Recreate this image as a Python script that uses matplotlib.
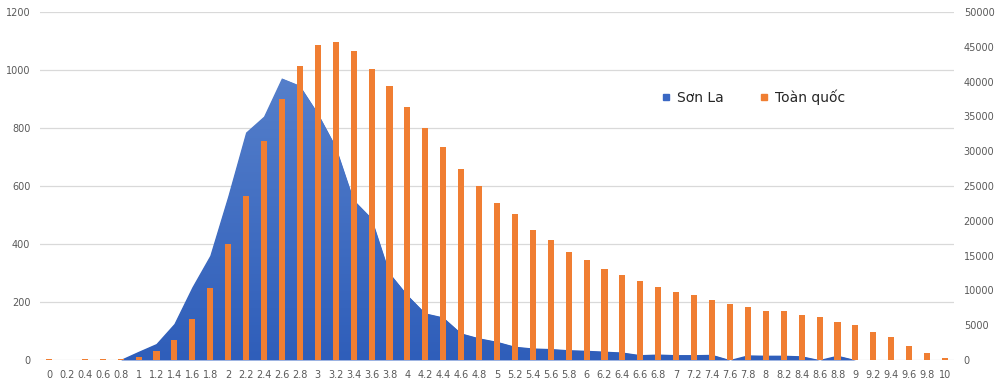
import numpy as np
import matplotlib
matplotlib.use("Agg")
import matplotlib.pyplot as plt
from matplotlib.lines import Line2D

# score buckets 0 .. 10 step 0.2
labels = ['0', '0.2', '0.4', '0.6', '0.8', '1', '1.2', '1.4', '1.6', '1.8',
          '2', '2.2', '2.4', '2.6', '2.8', '3', '3.2', '3.4', '3.6', '3.8',
          '4', '4.2', '4.4', '4.6', '4.8', '5', '5.2', '5.4', '5.6', '5.8',
          '6', '6.2', '6.4', '6.6', '6.8', '7', '7.2', '7.4', '7.6', '7.8',
          '8', '8.2', '8.4', '8.6', '8.8', '9', '9.2', '9.4', '9.6', '9.8', '10']

son_la = [0, 0, 0, 0, 0, 28, 55, 124, 250, 359,
          563, 784, 839, 971, 946, 851, 736, 552, 489, 300,
          224, 161, 147, 92, 75, 63, 46, 40, 38, 34,
          32, 29, 26, 17, 19, 17, 17, 18, 0, 16,
          15, 15, 13, 0, 15, 0, 0, 0, 0, 0, 0]

toan_quoc = [150, 20, 100, 120, 100, 470, 1290, 2870, 5890, 10300,
             16620, 23610, 31420, 37500, 42240, 45210, 45690, 44400, 41810, 39410,
             36350, 33290, 30600, 27400, 24960, 22560, 21020, 18680, 17240, 15470,
             14320, 13120, 12170, 11350, 10440, 9810, 9340, 8620, 8050, 7660,
             7090, 6990, 6510, 6130, 5460, 4980, 4020, 3260, 2010, 960, 330]

blue = '#3A68C4'
orange = '#F07E32'
grey = '#595959'

x = np.arange(len(labels))

fig = plt.figure(figsize=(10, 3.82), dpi=100)
ax = fig.add_axes([0.04, 0.0576, 0.914, 0.911])

# area with a light vertical gradient, clipped to the filled polygon
poly = ax.fill_between(x, son_la, 0, color=blue, lw=0, zorder=2)
grad = np.linspace(0, 1, 256).reshape(-1, 1)
cmap = matplotlib.colors.LinearSegmentedColormap.from_list('g', ['#2F5EBA', '#5680CB'])
img = ax.imshow(grad, cmap=cmap, aspect='auto', origin='lower',
                extent=[-0.5, len(x) - 0.5, 0, 1000], zorder=2.1)
img.set_clip_path(poly.get_paths()[0], transform=ax.transData)

ax.set_xlim(-0.5, len(x) - 0.5)
ax.set_ylim(0, 1200)
ax.set_yticks(range(0, 1201, 200))
ax.grid(axis='y', color='#D9D9D9', lw=0.9, zorder=0)
ax.set_axisbelow(True)
ax.set_xticks(x)
ax.set_xticklabels(labels)
for s in ax.spines.values():
    s.set_visible(False)
ax.tick_params(length=0, labelsize=7, colors=grey, pad=7)
ax.tick_params(axis='y', pad=7)

ax2 = ax.twinx()
ax2.bar(x, toan_quoc, width=0.34, color=orange, zorder=3)
ax2.set_ylim(0, 50000)
ax2.set_yticks(range(0, 50001, 5000))
for s in ax2.spines.values():
    s.set_visible(False)
ax2.tick_params(length=0, labelsize=7, colors=grey, pad=7)

handles = [Line2D([], [], marker='s', ls='', color=blue, markersize=5),
           Line2D([], [], marker='s', ls='', color=orange, markersize=5)]
fig.legend(handles, ['Sơn La', 'Toàn quốc'], loc='center', bbox_to_anchor=(0.752, 0.745),
           ncol=2, frameon=False, fontsize=10, handletextpad=0.3, columnspacing=2.4,
           labelcolor='#262626', handlelength=1.0)

fig.savefig('out.png', dpi=100)
